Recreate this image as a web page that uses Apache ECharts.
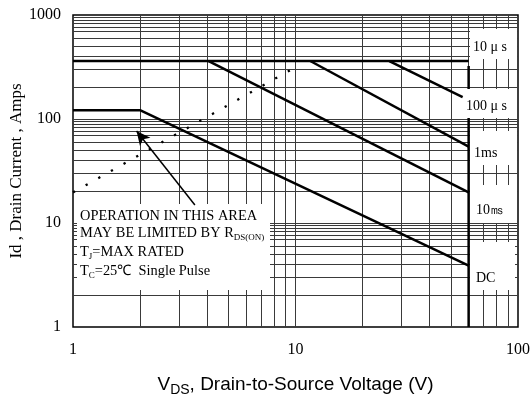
<!DOCTYPE html>
<html><head><meta charset="utf-8">
<script src="https://cdn.jsdelivr.net/npm/echarts@6/dist/echarts.min.js"></script>
<style>html,body{margin:0;padding:0;background:#fff}#c{width:532px;height:401px}</style>
</head><body><div id="c"></div>
<script>
// ---- data ----
const xTickLabels = [1, 10, 100];
const yTickLabels = [1, 10, 100, 1000];
const xGridLines = [2, 3, 4, 5, 6, 7, 8, 9, 10, 20, 30, 40, 50, 60, 70, 80, 90];
const yGridLines = [2, 3, 4, 5, 6, 7, 7.7, 8.3, 8.85, 9.45, 10,
                    20, 30, 40, 50, 60, 70, 77, 83, 88.5, 94.5, 100,
                    200, 300, 400, 500, 600, 700, 770, 830, 885, 945];
const line10us  = [[1, 361], [60, 361]];
const line100us = [[26.4, 361], [56.4, 162]];
const line1ms   = [[11.65, 361], [60, 54.2]];
const line10ms  = [[4.07, 361], [60, 19.7]];
const lineDC    = [[1, 121.5], [2, 121.5], [60, 3.9]];
const rdsonLimit = [[1, 19.7], [9.95, 313]];
const vdsMaxLine = [[60, 323], [60, 1]];
const arrowFrom = [3.53, 14.9];
const arrowTo   = [1.93, 76.7];

const SERIF = '"Liberation Serif", "Times New Roman", serif';
const SANS = '"Liberation Sans", Arial, sans-serif';

const chart = echarts.init(document.getElementById('c'), null, {renderer: 'canvas'});

function thick(name, data, z) {
  return {
    name, type: 'line', data, showSymbol: false, symbol: 'none', clip: false,
    z: z, lineStyle: {color: '#000', width: 2.5}, silent: true, animation: false
  };
}

const gridStyle = {color: '#3a3a3a', width: 1, type: 'solid'};
const ann = {
  m: {fontFamily: SERIF, fontSize: 14.4, fill: '#000', lineHeight: 18, verticalAlign: 'middle'},
  s: {fontFamily: SERIF, fontSize: 9, fill: '#000', lineHeight: 18, verticalAlign: 'bottom'}
};

const option = {
  animation: false,
  backgroundColor: '#fff',
  grid: {left: 73, right: 14, top: 15, bottom: 74, show: true, borderColor: '#000', borderWidth: 1.5,
         backgroundColor: 'transparent', outerBoundsMode: 'none', containLabel: false},
  xAxis: {
    type: 'log', logBase: 10, min: 1, max: 100,
    axisLine: {show: false}, axisTick: {show: false}, splitLine: {show: false},
    axisLabel: {color: '#000', fontFamily: SERIF, fontSize: 16, margin: 15,
      formatter: v => xTickLabels.includes(Math.round(v)) ? String(Math.round(v)) : ''},
    name: '{v|V}{s|DS}{n|, Drain-to-Source Voltage (V)}',
    nameLocation: 'middle', nameGap: 46,
    nameTextStyle: {color: '#000', fontFamily: SANS, fontSize: 19, lineHeight: 24,
      rich: {v: {fontFamily: SANS, fontSize: 19, color: '#000', verticalAlign: 'middle', lineHeight: 24},
             s: {fontFamily: SANS, fontSize: 14, color: '#000', verticalAlign: 'bottom', lineHeight: 24},
             n: {fontFamily: SANS, fontSize: 19, color: '#000', verticalAlign: 'middle', lineHeight: 24}}}
  },
  yAxis: {
    type: 'log', logBase: 10, min: 1, max: 1000,
    axisLine: {show: false}, axisTick: {show: false}, splitLine: {show: false},
    axisLabel: {color: '#000', fontFamily: SERIF, fontSize: 16, margin: 12,
      formatter: v => yTickLabels.includes(Math.round(v)) ? String(Math.round(v)) : ''},
    name: 'Id , Drain Current , Amps', nameLocation: 'middle', nameGap: 48, nameRotate: 90,
    nameMoveOverlap: false,
    nameTextStyle: {color: '#000', fontFamily: SERIF, fontSize: 17}
  },
  graphic: {elements: [
    {type: 'rect', z: 30, silent: true, shape: {x: 77, y: 204, width: 193, height: 86}, style: {fill: '#fff'}},
    {type: 'rect', z: 30, silent: true, shape: {x: 470, y: 29, width: 47, height: 30}, style: {fill: '#fff'}},
    {type: 'rect', z: 30, silent: true, shape: {x: 462, y: 89, width: 55, height: 29}, style: {fill: '#fff'}},
    {type: 'rect', z: 30, silent: true, shape: {x: 470, y: 131, width: 47, height: 34}, style: {fill: '#fff'}},
    {type: 'rect', z: 30, silent: true, shape: {x: 470, y: 185, width: 47, height: 38}, style: {fill: '#fff'}},
    {type: 'rect', z: 30, silent: true, shape: {x: 470, y: 242, width: 45, height: 48}, style: {fill: '#fff'}},
    {type: 'text', z: 60, x: 473, y: 47, style: {text: '10 μ s', font: '14px ' + SERIF, fill: '#000', verticalAlign: 'middle'}},
    {type: 'text', z: 60, x: 466, y: 106, style: {text: '100 μ s', font: '14px ' + SERIF, fill: '#000', verticalAlign: 'middle'}},
    {type: 'text', z: 60, x: 474, y: 153.5, style: {text: '1ms', font: '14px ' + SERIF, fill: '#000', verticalAlign: 'middle'}},
    {type: 'text', z: 60, x: 476, y: 210, style: {text: '10㎳', font: '14px ' + SERIF, fill: '#000', verticalAlign: 'middle'}},
    {type: 'text', z: 60, x: 476, y: 278.5, style: {text: 'DC', font: '14px ' + SERIF, fill: '#000', verticalAlign: 'middle'}},
    {type: 'text', z: 60, x: 80, y: 216, style: {text: 'OPERATION IN THIS AREA', font: '14.4px ' + SERIF, fill: '#000', verticalAlign: 'middle'}},
    {type: 'text', z: 60, x: 80, y: 233.5, style: {text: '{m|MAY BE LIMITED BY R}{s|DS(ON)}', rich: ann, verticalAlign: 'middle'}},
    {type: 'text', z: 60, x: 80, y: 252, style: {text: '{m|T}{s|J}{m|=MAX RATED}', rich: ann, verticalAlign: 'middle'}},
    {type: 'text', z: 60, x: 80, y: 271, style: {text: '{m|T}{s|C}{m|=25℃  Single Pulse}', rich: ann, verticalAlign: 'middle'}}
  ]},
  series: [
    {
      name: 'grid', type: 'line', data: [], silent: true, z: 1,
      markLine: {
        silent: true, z: 1, symbol: ['none', 'none'], animation: false,
        label: {show: false}, lineStyle: gridStyle, emphasis: {disabled: true},
        data: xGridLines.map(v => ({xAxis: v})).concat(yGridLines.map(v => ({yAxis: v})))
      }
    },
    thick('Vds max', vdsMaxLine, 10),
    thick('10us', line10us, 40),
    thick('100us', line100us, 40),
    thick('1ms', line1ms, 40),
    thick('10ms', line10ms, 40),
    thick('DC', lineDC, 40),
    {
      name: 'RDS(on) limit', type: 'line', data: rdsonLimit, showSymbol: false, symbol: 'none', clip: false,
      z: 40, silent: true, lineStyle: {color: '#000', width: 2.3, type: [2.3, 12.2], cap: 'butt'}
    },
    {
      name: 'arrow', type: 'line', data: [], silent: true, z: 40,
      markLine: {
        silent: true, z: 40, symbol: ['none', 'arrow'], symbolSize: [10, 14], animation: false,
        label: {show: false}, lineStyle: {color: '#000', width: 1.5, type: 'solid'},
        itemStyle: {color: '#000'},
        data: [[{coord: arrowFrom}, {coord: arrowTo}]]
      }
    }
  ]
};
chart.setOption(option);
</script>
</body></html>
